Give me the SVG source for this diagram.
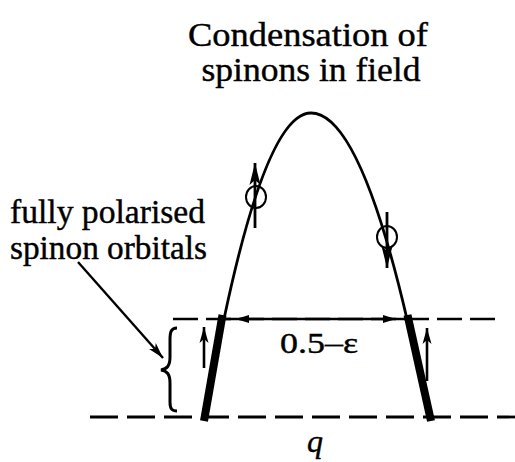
<svg xmlns="http://www.w3.org/2000/svg" width="515" height="462" viewBox="0 0 515 462">
<style>
.t{font-family:"Liberation Serif","Times New Roman",serif;fill:#000;stroke:#000;stroke-width:0.4}
.ln{stroke:#000;fill:none}
.dash1{stroke:#000;stroke-width:2.5;stroke-dasharray:25 8;fill:none}
.dash2{stroke:#000;stroke-width:2.8;stroke-dasharray:28 9;fill:none}
</style>
<defs>
<marker id="ah" markerUnits="userSpaceOnUse" markerWidth="24" markerHeight="14" refX="22" refY="7" orient="auto">
<path d="M0,1.5 L22,7 L0,12.5 L5,7 Z" fill="#000"/>
</marker>
<marker id="ahs" markerUnits="userSpaceOnUse" markerWidth="18" markerHeight="12" refX="16" refY="6" orient="auto">
<path d="M0,1.5 L16,6 L0,10.5 L4,6 Z" fill="#000"/>
</marker>
</defs>
<g id="title">
<text class="t" x="308" y="46" font-size="34" text-anchor="middle" textLength="240" lengthAdjust="spacingAndGlyphs">Condensation of</text>
<text class="t" x="311" y="81" font-size="34" text-anchor="middle" textLength="219" lengthAdjust="spacingAndGlyphs">spinons in field</text>
</g>
<g id="label">
<text class="t" x="10" y="223" font-size="33" textLength="195" lengthAdjust="spacingAndGlyphs">fully polarised</text>
<text class="t" x="10" y="259" font-size="33" textLength="197" lengthAdjust="spacingAndGlyphs">spinon orbitals</text>
</g>
<g id="axes">
<line class="dash1" x1="173" y1="319" x2="497" y2="319"/>
<line class="dash2" x1="90" y1="417" x2="515" y2="417"/>
</g>
<g id="connectors">
<path class="ln" stroke-width="2.8" d="M224,319 Q267.5,113 311,113 Q359,113 407,319"/>
<line class="ln" stroke-width="2.4" x1="223" y1="319" x2="407" y2="319"/>
<path d="M236,319 L249,315 L249,323 Z" fill="#000"/>
<path d="M396,319 L383,315 L383,323 Z" fill="#000"/>
<line class="ln" stroke-width="2.4" x1="78" y1="262" x2="163" y2="358" marker-end="url(#ahs)"/>
</g>
<g id="orbitals">
<line class="ln" stroke-width="8" x1="222.5" y1="315" x2="204" y2="421"/>
<line class="ln" stroke-width="8" x1="407.5" y1="315" x2="431" y2="421"/>
<line class="ln" stroke-width="2.6" x1="204" y1="368" x2="204" y2="327" marker-end="url(#ahs)"/>
<line class="ln" stroke-width="2.6" x1="427" y1="381" x2="427" y2="328" marker-end="url(#ahs)"/>
</g>
<g id="brace">
<path class="ln" stroke-width="3" d="M177,328 C171,328 170,332 170,340 L170,357 C170,366 167,369 161,370 C167,371 170,374 170,383 L170,402 C170,409 172,411 177,411"/>
</g>
<g id="spin-up">
<ellipse class="ln" stroke-width="2" cx="256" cy="197" rx="10" ry="11"/>
<line class="ln" stroke-width="2.8" x1="255" y1="228" x2="255" y2="163" marker-end="url(#ah)"/>
</g>
<g id="spin-down">
<ellipse class="ln" stroke-width="2" cx="387" cy="237" rx="10" ry="11"/>
<line class="ln" stroke-width="2.8" x1="387" y1="212" x2="387" y2="268" marker-end="url(#ah)"/>
</g>
<g id="distance">
<text class="t" x="280" y="353" font-size="30" textLength="78" lengthAdjust="spacingAndGlyphs">0.5–ε</text>
</g>
<g id="q-axis">
<text class="t" x="307" y="452" font-size="32" font-style="italic">q</text>
</g>
</svg>
